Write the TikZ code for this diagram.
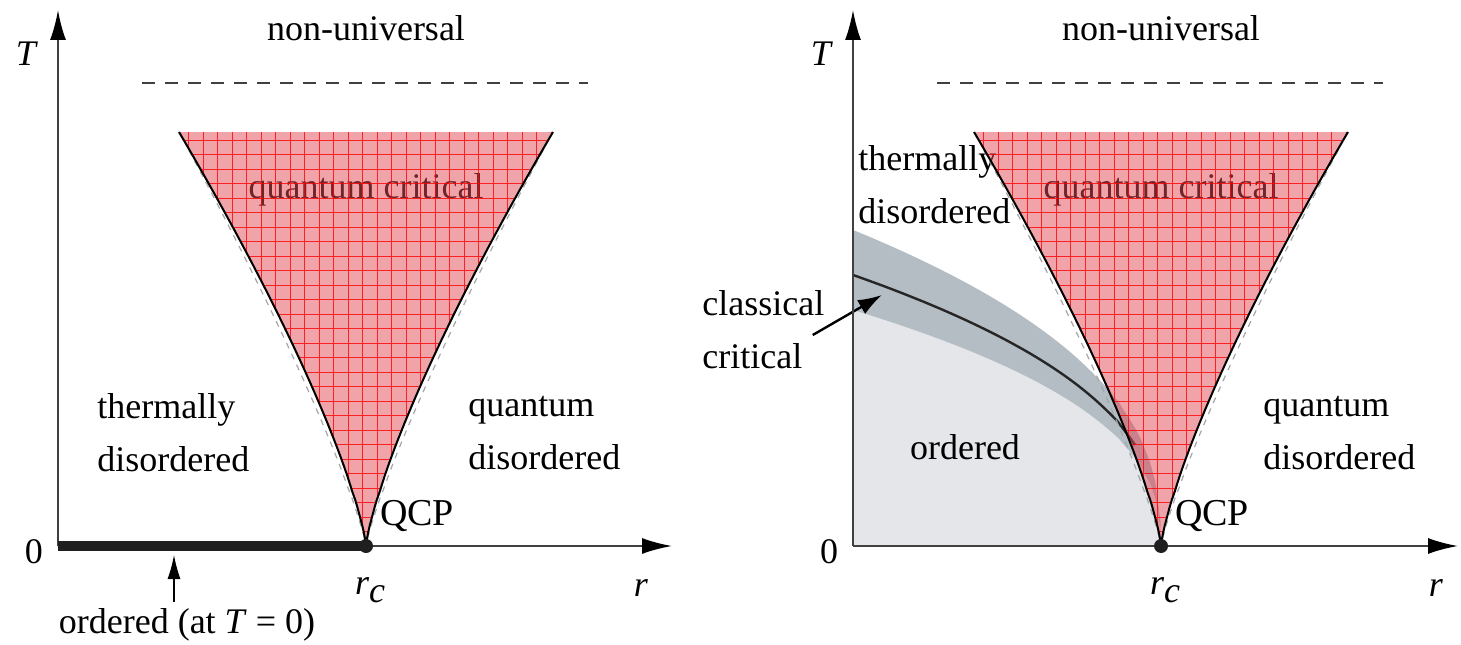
\documentclass[tikz,border=0pt]{standalone}
\usepackage{fontspec}
\setmainfont{Liberation Serif}
\usepackage{tikz}
\usetikzlibrary{arrows.meta, positioning, calc}
\definecolor{qcpink}{RGB}{226,72,84}
\definecolor{qcgrid}{RGB}{255,0,0}
\definecolor{ordgrey}{RGB}{228,230,234}
\definecolor{bandgrey}{RGB}{180,188,196}
\definecolor{axisgrey}{RGB}{64,64,64}
\tikzset{
  axis/.style={draw=axisgrey, line width=1pt, -{Latex[length=15pt,width=8pt,color=black]}},
  twoline/.style={align=left, inner sep=1pt, anchor=west},
  fan/.style={fill=qcpink, fill opacity=0.5},
  fangrid/.style={draw=qcgrid, draw opacity=0.8, line width=0.4pt},
  fanedge/.style={draw=black, line width=1pt},
  fanghost/.style={draw=gray!70, dashed, line width=0.6pt},
  critline/.style={draw=black!85, line width=1.2pt},
  pointer/.style={-{Latex[length=12pt,width=8pt]}, line width=1.2pt},
}
\begin{document}
\begin{tikzpicture}[x=0.5pt, y=0.5pt, font=\fontsize{18}{26.5}\selectfont]
  \def\rc{308} % r_c, measured from the T axis
  \def\fanh{414} % height of the quantum critical fan
  \def\fanw{187} % half width of the fan at the top
  \useasboundingbox (0,0) rectangle (1461,644);
  % ordered phase and classical critical band (right panel)
  \begin{scope}[shift={(853,98)}]
    \fill[ordgrey] (0,0) -- (0,236)
      -- plot[domain=0:307.5, samples=60] (\x,{236*(1-\x/308)^0.4}) -- (\rc,0) -- cycle;
    \fill[bandgrey] (0,316)
      -- plot[domain=0:307.5, samples=60] (\x,{316*(1-\x/308)^0.4}) -- (\rc,0)
      -- plot[domain=307.5:0, samples=60] (\x,{236*(1-\x/308)^0.4}) -- cycle;
    \draw[critline] plot[domain=0:282, samples=50] (\x,{271*(1-\x/308)^0.4});
    \node (ordR) at (112,99) {ordered};
    \node[twoline] (thermR) at (3,361) {thermally\\disordered};
    \coordinate (ccTip) at (29,251);
  \end{scope}
  \node[twoline] (cc) at (700,314) {classical\\critical};
  \draw[pointer] ([xshift=-7pt,yshift=-2.5pt]cc.east) -- (ccTip);
  % both panels
  \foreach \ox/\xlen/\p in {58/614/L, 853/605/R}{
    \begin{scope}[shift={(\ox,98)}]
      \coordinate (o\p) at (0,0);
      \coordinate (rc\p) at (\rc,0);
      \node (qc\p) at (\rc,356) {quantum critical};
      % the fan
      \fill[fan] (rc\p) -- plot[domain=0.01:1, samples=50] ({\rc-\fanw*(\x)^1.3},{\fanh*\x})
        -- plot[domain=1:0.01, samples=50] ({\rc+\fanw*(\x)^1.3},{\fanh*\x}) -- cycle;
      \begin{scope}
        \clip (rc\p) -- plot[domain=0.01:1, samples=50] ({\rc-\fanw*(\x)^1.3},{\fanh*\x})
          -- plot[domain=1:0.01, samples=50] ({\rc+\fanw*(\x)^1.3},{\fanh*\x}) -- cycle;
        \draw[fangrid, step=7.25pt] (\rc-\fanw-20,0) grid (\rc+\fanw+20,\fanh);
      \end{scope}
      \draw[fanghost] plot[domain=0.02:0.97, samples=40] ({\rc-\fanw*(\x)^1.2},{\fanh*\x});
      \draw[fanghost] plot[domain=0.02:0.97, samples=40] ({\rc+\fanw*(\x)^1.2},{\fanh*\x});
      \draw[fanedge] plot[domain=0.01:1, samples=50] ({\rc-\fanw*(\x)^1.3},{\fanh*\x});
      \draw[fanedge] plot[domain=0.01:1, samples=50] ({\rc+\fanw*(\x)^1.3},{\fanh*\x});
      % axes
      \draw[dash pattern=on 6.5pt off 5pt, line width=0.8pt, draw=axisgrey] (84,463) -- (530,463);
      \draw[axis] (o\p) -- (0,536);
      \draw[axis] (o\p) -- (\xlen,0);
      \node (T\p) at (-31,492) {\textit{T}};
      \node (zero\p) at (-24,-6) {0};
      \node (nu\p) at (\rc,518) {non-universal};
      \node[font=\fontsize{19}{22}\selectfont] (qcp\p) at (359,30) {QCP};
      \node (rclbl\p) at (312,-44) {\textit{r\raisebox{-4pt}{c}}};
      \node (r\p) at (583,-42) {\textit{r}};
      \node[twoline] (qd\p) at (408,113) {quantum\\disordered};
    \end{scope}
  }
  % left panel: ordered at T = 0
  \draw[line width=5pt, draw=black!88] (oL) -- (rcL);
  \foreach \p in {L,R} \fill[black!88] (rc\p) circle (7);
  \node[twoline] (thermL) at (95,211) {thermally\\disordered};
  \node (ordL) at (187,19) {ordered (at \textit{T}~=~0)};
  \coordinate (tipL) at (174,89);
  \draw[-{Latex[length=12pt,width=6.5pt]}, line width=0.6pt] (ordL.north -| tipL) -- (tipL);
\end{tikzpicture}
\end{document}
